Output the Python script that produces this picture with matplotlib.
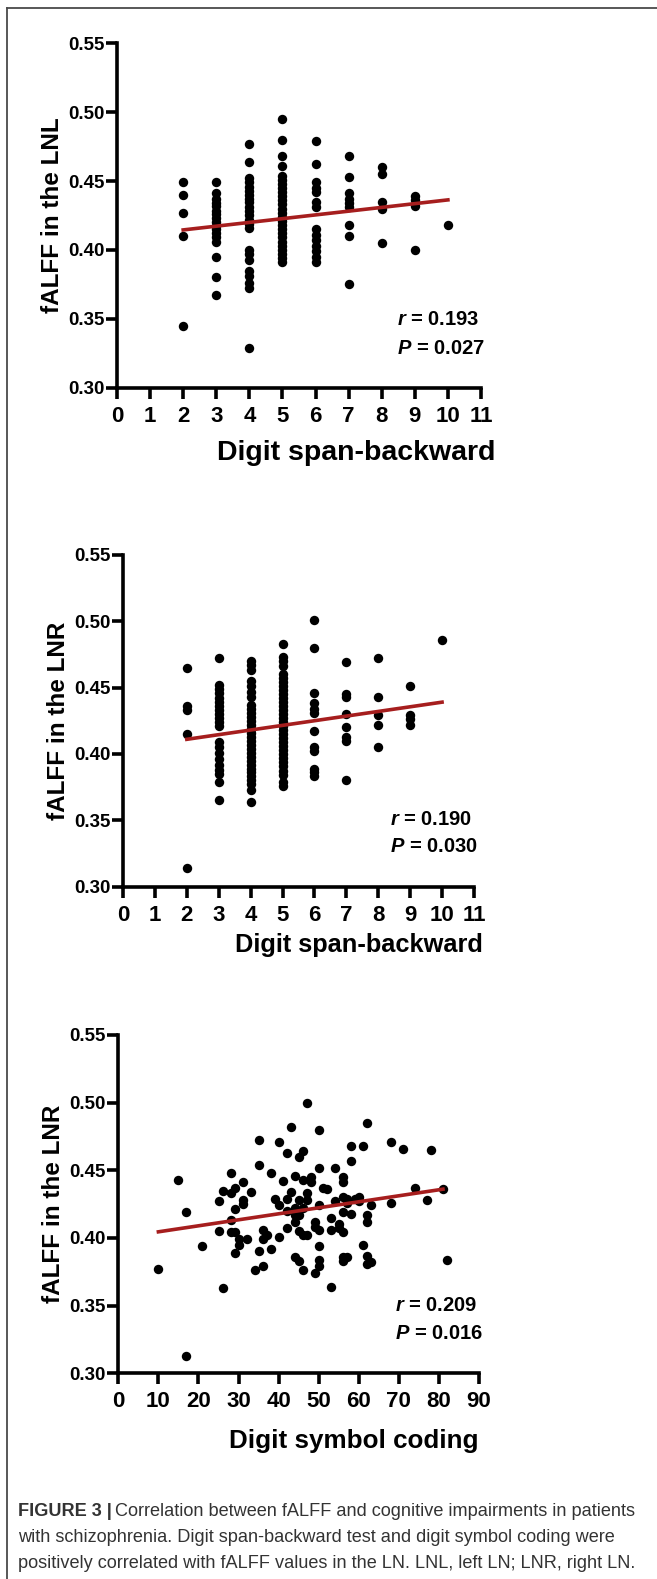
import matplotlib

matplotlib.use("Agg")
import matplotlib.pyplot as plt
from matplotlib.lines import Line2D

plt.rcParams["font.family"] = ["Liberation Sans", "DejaVu Sans"]
plt.rcParams["mathtext.fontset"] = "custom"
plt.rcParams["mathtext.it"] = "Liberation Sans:italic:bold"
plt.rcParams["mathtext.rm"] = "Liberation Sans:bold"

# ---- data ----
span_ticks = list(range(0, 12))
symbol_ticks = list(range(0, 100, 10))
falff_ticks = [0.30, 0.35, 0.40, 0.45, 0.50, 0.55]

# fALFF in the left LN by digit span-backward score
lnl_by_span = {
    2: [0.449, 0.440, 0.427, 0.410, 0.345],
    3: [0.449, 0.441, 0.437, 0.434, 0.432, 0.428, 0.426, 0.423, 0.420, 0.417,
        0.415, 0.412, 0.409, 0.406, 0.395, 0.380, 0.367],
    4: [0.477, 0.464, 0.452, 0.449, 0.446, 0.443, 0.440, 0.437, 0.435, 0.431,
        0.428, 0.425, 0.422, 0.419, 0.416, 0.400, 0.397, 0.393, 0.385, 0.381,
        0.376, 0.372, 0.329],
    5: [0.495, 0.480, 0.468, 0.461, 0.454, 0.451, 0.448, 0.445, 0.442, 0.439,
        0.436, 0.433, 0.430, 0.427, 0.424, 0.421, 0.418, 0.415, 0.412, 0.409,
        0.406, 0.403, 0.400, 0.397, 0.394, 0.391],
    6: [0.479, 0.462, 0.449, 0.445, 0.442, 0.435, 0.431, 0.415, 0.411, 0.407,
        0.403, 0.399, 0.395, 0.391],
    7: [0.468, 0.453, 0.441, 0.437, 0.434, 0.431, 0.418, 0.410, 0.375],
    8: [0.460, 0.455, 0.435, 0.430, 0.405],
    9: [0.439, 0.436, 0.432, 0.400],
    10: [0.418],
}

# fALFF in the right LN by digit span-backward score
lnr_by_span = {
    2: [0.465, 0.436, 0.433, 0.415, 0.314],
    3: [0.472, 0.452, 0.449, 0.446, 0.442, 0.439, 0.436, 0.433, 0.430, 0.427,
        0.424, 0.421, 0.409, 0.405, 0.401, 0.396, 0.392, 0.388, 0.385, 0.379,
        0.365],
    4: [0.470, 0.467, 0.463, 0.455, 0.451, 0.447, 0.443, 0.437, 0.434, 0.431,
        0.428, 0.425, 0.422, 0.419, 0.416, 0.413, 0.410, 0.407, 0.404, 0.401,
        0.398, 0.395, 0.392, 0.389, 0.386, 0.383, 0.380, 0.377, 0.373, 0.364],
    5: [0.483, 0.473, 0.470, 0.466, 0.460, 0.457, 0.454, 0.451, 0.448, 0.445,
        0.442, 0.439, 0.436, 0.433, 0.430, 0.427, 0.424, 0.421, 0.418, 0.415,
        0.412, 0.409, 0.406, 0.403, 0.400, 0.397, 0.394, 0.391, 0.387, 0.384,
        0.379, 0.376],
    6: [0.501, 0.480, 0.446, 0.438, 0.434, 0.431, 0.417, 0.405, 0.402, 0.389,
        0.386, 0.383],
    7: [0.469, 0.445, 0.443, 0.430, 0.420, 0.413, 0.410, 0.380],
    8: [0.472, 0.443, 0.429, 0.422, 0.405],
    9: [0.451, 0.429, 0.426, 0.422],
    10: [0.486],
}

# digit symbol coding score vs fALFF in the right LN
symbol_scores = [
    10, 15, 17, 17, 21, 25, 25, 26, 26, 28, 28, 28, 28, 29, 29, 29, 29, 30, 30,
    31, 31, 31, 32, 33, 34, 35, 35, 35, 36, 36, 36, 37, 38, 38, 39, 40, 40, 40,
    41, 42, 42, 42, 42, 43, 43, 44, 44, 44, 44, 44, 45, 45, 45, 45, 45, 46, 46,
    46, 46, 46, 47, 47, 47, 47, 48, 48, 49, 49, 49, 50, 50, 50, 50, 50, 50, 50,
    51, 52, 53, 53, 53, 54, 54, 55, 55, 56, 56, 56, 56, 56, 56, 56, 57, 57, 57,
    58, 58, 58, 59, 60, 60, 61, 61, 62, 62, 62, 62, 62, 63, 63, 68, 68, 71, 74,
    77, 78, 81, 82,
]
lnr_by_symbol = [
    0.377, 0.443, 0.419, 0.313, 0.394, 0.427, 0.405, 0.435, 0.363, 0.448, 0.433,
    0.413, 0.404, 0.437, 0.421, 0.389, 0.404, 0.399, 0.395, 0.441, 0.428, 0.425,
    0.399, 0.434, 0.376, 0.472, 0.454, 0.390, 0.406, 0.399, 0.379, 0.402, 0.448,
    0.392, 0.429, 0.471, 0.424, 0.401, 0.442, 0.463, 0.429, 0.420, 0.407, 0.482,
    0.434, 0.446, 0.422, 0.417, 0.412, 0.386, 0.460, 0.428, 0.417, 0.405, 0.383,
    0.464, 0.443, 0.422, 0.402, 0.376, 0.500, 0.433, 0.428, 0.402, 0.445, 0.441,
    0.412, 0.374, 0.408, 0.480, 0.452, 0.424, 0.406, 0.394, 0.384, 0.379, 0.437,
    0.436, 0.415, 0.406, 0.364, 0.452, 0.427, 0.410, 0.407, 0.445, 0.441, 0.430,
    0.419, 0.404, 0.386, 0.383, 0.429, 0.426, 0.386, 0.468, 0.457, 0.418, 0.429,
    0.430, 0.427, 0.468, 0.395, 0.485, 0.417, 0.412, 0.387, 0.381, 0.424, 0.382,
    0.471, 0.426, 0.466, 0.437, 0.428, 0.465, 0.436, 0.384,
]

# regression line end points
fit_lnl_span = ([2, 10], [0.4145, 0.4363])
fit_lnr_span = ([2, 10], [0.411, 0.439])
fit_lnr_symbol = ([10, 81], [0.4045, 0.436])

stats_r = ["0.193", "0.190", "0.209"]
stats_p = ["0.027", "0.030", "0.016"]

RED = "#a61e1e"
AXIS_LW = 2.6


def _flatten(by_score):
    xs, ys = [], []
    for score, values in by_score.items():
        xs += [score] * len(values)
        ys += values
    return xs, ys


def _panel(fig, rect, xs, ys, fit, xticks, ylabel, xlabel, xlabel_pos, xlabel_size,
           r, p, stat_pos):
    ax = fig.add_axes(rect)
    ax.scatter(xs, ys, s=46, color="black", zorder=3, clip_on=False, linewidths=0)
    ax.add_line(Line2D(fit[0], fit[1], color=RED, lw=2.6, zorder=4))
    ax.set_xlim(xticks[0], xticks[-1])
    ax.set_ylim(0.30, 0.55)
    ax.set_xticks(xticks)
    ax.set_xticklabels([str(t) for t in xticks], fontsize=16, fontweight="bold")
    ax.set_yticks(falff_ticks)
    ax.set_yticklabels([f"{t:.2f}" for t in falff_ticks], fontsize=13.5, fontweight="bold")
    for side in ("top", "right"):
        ax.spines[side].set_visible(False)
    for side in ("left", "bottom"):
        ax.spines[side].set_linewidth(AXIS_LW)
    ax.tick_params(axis="both", direction="out", length=8, width=AXIS_LW)
    ax.tick_params(axis="y", pad=1)
    ax.tick_params(axis="x", pad=5)
    ax.set_ylabel(ylabel, fontsize=17.5, fontweight="bold", labelpad=3)
    ax.text(xlabel_pos[0], xlabel_pos[1], xlabel, transform=ax.transAxes,
            ha="center", va="center", fontsize=xlabel_size, fontweight="bold")
    ax.text(stat_pos[0], stat_pos[1], r"$r$ = " + r, transform=ax.transAxes,
            ha="left", va="center", fontsize=14.5, fontweight="bold")
    ax.text(stat_pos[0], stat_pos[2], r"$P$ = " + p, transform=ax.transAxes,
            ha="left", va="center", fontsize=14.5, fontweight="bold")
    return ax


fig = plt.figure(figsize=(6.57, 15.79), dpi=100)

x1, y1 = _flatten(lnl_by_span)
_panel(fig, [0.1781, 0.7545, 0.554, 0.2181], x1, y1, fit_lnl_span, span_ticks,
       "fALFF in the LNL", "Digit span-backward", (0.657, -0.19), 20.5,
       stats_r[0], stats_p[0], (0.769, 0.197, 0.115))

x2, y2 = _flatten(lnr_by_span)
_panel(fig, [0.1872, 0.4385, 0.5342, 0.2101], x2, y2, fit_lnr_span, span_ticks,
       "fALFF in the LNR", "Digit span-backward", (0.672, -0.176), 18.3,
       stats_r[1], stats_p[1], (0.761, 0.201, 0.121))

_panel(fig, [0.1801, 0.1303, 0.549, 0.2143], symbol_scores, lnr_by_symbol,
       fit_lnr_symbol, symbol_ticks, "fALFF in the LNR", "Digit symbol coding",
       (0.653, -0.20), 18.7, stats_r[2], stats_p[2], (0.767, 0.199, 0.118))

# frame lines (top and left) of the figure panel
fig.add_artist(Line2D([7 / 657, 1.0], [1 - 8 / 1579] * 2, color="#4a4a4a", lw=1.3))
fig.add_artist(Line2D([7 / 657] * 2, [0.0, 1 - 8 / 1579], color="#4a4a4a", lw=1.3))

# caption
cap_color = "#333333"
cap_size = 13.1
cap_x = 18 / 657
line_y = [1 - 1511 / 1579, 1 - 1537 / 1579, 1 - 1564 / 1579]
head = fig.text(cap_x, line_y[0], "FIGURE 3 |", fontsize=cap_size, fontweight="bold",
                color=cap_color, va="center", ha="left")
renderer = fig.canvas.get_renderer()
bb = head.get_window_extent(renderer)
fig.text(bb.x1 / fig.bbox.width + 3 / 657, line_y[0],
         "Correlation between fALFF and cognitive impairments in patients",
         fontsize=cap_size, color=cap_color, va="center", ha="left")
fig.text(cap_x, line_y[1],
         "with schizophrenia. Digit span-backward test and digit symbol coding were",
         fontsize=cap_size, color=cap_color, va="center", ha="left")
fig.text(cap_x, line_y[2],
         "positively correlated with fALFF values in the LN. LNL, left LN; LNR, right LN.",
         fontsize=cap_size, color=cap_color, va="center", ha="left")

fig.savefig("out.png", dpi=100)
plt.close(fig)
